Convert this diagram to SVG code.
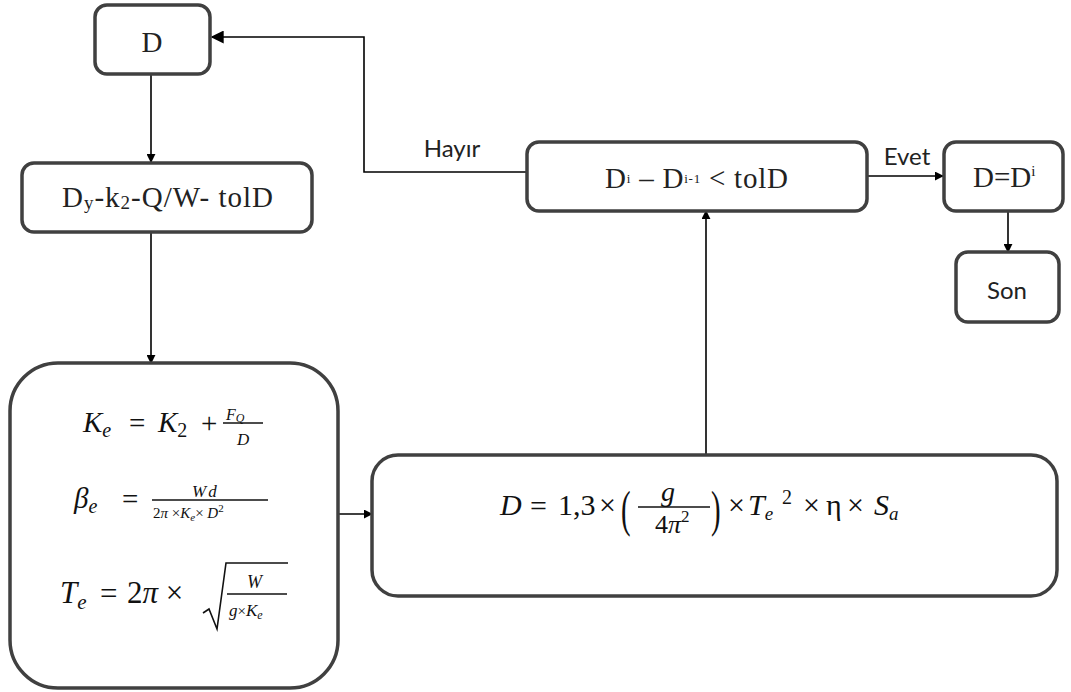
<svg xmlns="http://www.w3.org/2000/svg" width="1071" height="692" viewBox="0 0 1071 692">
<defs>
<marker id="ah" viewBox="0 0 10 10" refX="9" refY="5" markerWidth="9" markerHeight="9" markerUnits="userSpaceOnUse" orient="auto">
<path d="M0,0 L10,5 L0,10 z" fill="#000"/>
</marker>
<marker id="ah2" viewBox="0 0 10 10" refX="9" refY="5" markerWidth="13" markerHeight="13" markerUnits="userSpaceOnUse" orient="auto">
<path d="M0,0 L10,5 L0,10 z" fill="#000"/>
</marker>
<style>
.box{fill:#fff;stroke:#404040;stroke-width:3.5}
.con{fill:none;stroke:#000;stroke-width:1.6}
.t{font-family:"Liberation Serif","DejaVu Serif",serif;font-size:29px;fill:#222}
.s{font-family:Lato,"Open Sans","Liberation Sans",sans-serif;font-size:24px;fill:#222}
.m{font-family:"Liberation Serif","DejaVu Serif",serif;font-style:italic;fill:#111}
.mr{font-family:"Liberation Serif","DejaVu Serif",serif;fill:#111}
.bar{stroke:#111;stroke-width:1.3}
</style>
</defs>
<rect width="1071" height="692" fill="#fff"/>

<g id="connectors">
<path class="con" d="M151,75 V162" marker-end="url(#ah)"/>
<path class="con" d="M151,232 V363" marker-end="url(#ah)"/>
<path class="con" d="M338,514 H372" marker-end="url(#ah)"/>
<path class="con" d="M706,454 V211" marker-end="url(#ah)"/>
<path class="con" d="M527,172 H364 V37 H212" marker-end="url(#ah2)"/>
<path class="con" d="M867,176 H943" stroke-width="3" marker-end="url(#ah)"/>
<path class="con" d="M1008,212 V252" marker-end="url(#ah)"/>
<text class="s" x="452" y="157" text-anchor="middle">Hayır</text>
<text class="s" x="907" y="165" text-anchor="middle">Evet</text>
</g>

<g id="node-d">
<rect class="box" x="95" y="5" width="115" height="69" rx="12"/>
<text class="t" x="152" y="52" text-anchor="middle">D</text>
</g>

<g id="node-inputs">
<rect class="box" x="22" y="163" width="290" height="69" rx="12"/>
<text class="t" x="62" y="207" textLength="211" lengthAdjust="spacing">D<tspan font-size="19" dy="2">y</tspan><tspan dy="-2">-k</tspan><tspan font-size="19" dy="2">2</tspan><tspan dy="-2">-Q/W- tolD</tspan></text>
</g>

<g id="node-calc">
<rect class="box" x="10" y="363" width="328" height="325" rx="48"/>
<!-- K_e = K_2 + F_Q/D -->
<text class="m" font-size="29" x="83" y="432">K<tspan font-size="20" dy="5">e</tspan></text>
<text class="mr" font-size="29" x="129" y="433">=</text>
<text class="m" font-size="29" x="158" y="432">K<tspan class="mr" font-style="normal" font-size="20" dy="5">2</tspan></text>
<text class="mr" font-size="29" x="201" y="433">+</text>
<text class="m" font-size="16" x="226" y="420">F<tspan font-size="12" dy="2">Q</tspan></text>
<line class="bar" x1="223" y1="423" x2="263" y2="423"/>
<text class="m" font-size="17" x="237" y="445">D</text>
<!-- beta_e -->
<text class="m" font-size="29" x="74" y="508">β<tspan font-size="20" dy="5">e</tspan></text>
<text class="mr" font-size="29" x="122" y="509">=</text>
<text class="m" font-size="17" x="192" y="497">W<tspan font-size="17" dx="2">d</tspan></text>
<line class="bar" x1="152" y1="500" x2="268" y2="500"/>
<text class="mr" font-size="15" x="153" y="518">2<tspan font-style="italic">π</tspan> ×<tspan font-style="italic">K</tspan><tspan font-style="italic" font-size="11" dy="3">e</tspan><tspan dy="-3">× </tspan><tspan font-style="italic">D</tspan><tspan font-size="11" dy="-6">2</tspan></text>
<!-- T_e -->
<text class="m" font-size="31" x="60" y="603">T<tspan font-size="21" dy="6">e</tspan></text>
<text class="mr" font-size="31" x="100" y="604">=</text>
<text class="mr" font-size="31" x="127" y="603">2<tspan font-style="italic">π</tspan> ×</text>
<path d="M203,613 L209,609 L217,629 L226,563 H288" fill="none" stroke="#111" stroke-width="1.6"/>
<text class="m" font-size="18" x="247" y="588">W</text>
<line class="bar" x1="227" y1="594" x2="287" y2="594"/>
<text class="m" font-size="17" x="229" y="616">g<tspan font-style="normal" font-size="15">×</tspan>K<tspan font-size="12" dy="3">e</tspan></text>
</g>

<g id="node-d-formula">
<rect class="box" x="372" y="455" width="685" height="141" rx="26"/>
<text class="m" font-size="30" x="500" y="515">D</text>
<text class="mr" font-size="30" x="530" y="516">=</text>
<text class="mr" font-size="30" x="558" y="515">1,3</text>
<text class="mr" font-size="30" x="599" y="515">×</text>
<text class="mr" font-size="36" x="621" y="526" transform="translate(621,526) scale(0.8,1.4) translate(-621,-526)">(</text>
<text class="m" font-size="28" x="661" y="501">g</text>
<line class="bar" x1="638" y1="507" x2="710" y2="507"/>
<text class="mr" font-size="26" x="655" y="533">4<tspan font-style="italic">π</tspan><tspan font-size="17" dy="-11">2</tspan></text>
<text class="mr" font-size="36" x="711" y="526" transform="translate(711,526) scale(0.8,1.4) translate(-711,-526)">)</text>
<text class="mr" font-size="30" x="728" y="515">×</text>
<text class="m" font-size="30" x="748" y="515">T<tspan font-size="19" dy="5">e</tspan></text>
<text class="mr" font-size="20" x="782" y="504">2</text>
<text class="mr" font-size="30" x="803" y="515">×</text>
<text class="mr" font-size="30" x="826" y="515">η</text>
<text class="mr" font-size="30" x="847" y="515">×</text>
<text class="m" font-size="30" x="874" y="515">S<tspan font-size="19" dy="5">a</tspan></text>
</g>

<g id="node-check">
<rect class="box" x="527" y="142" width="340" height="69" rx="12"/>
<text class="t" x="605" y="188" textLength="183" lengthAdjust="spacing">D<tspan font-size="13" dy="-5">i</tspan><tspan dy="5"> – D</tspan><tspan font-size="13" dy="-5">i-1</tspan><tspan dy="5"> &lt; tolD</tspan></text>
</g>

<g id="node-result">
<rect class="box" x="944" y="142" width="119" height="69" rx="12"/>
<text class="t" x="973" y="187">D=D<tspan font-size="15" dy="-11">i</tspan></text>
</g>

<g id="node-end">
<rect class="box" x="956" y="252" width="103" height="70" rx="12"/>
<text class="s" x="1007" y="299" text-anchor="middle" font-size="25">Son</text>
</g>
</svg>
